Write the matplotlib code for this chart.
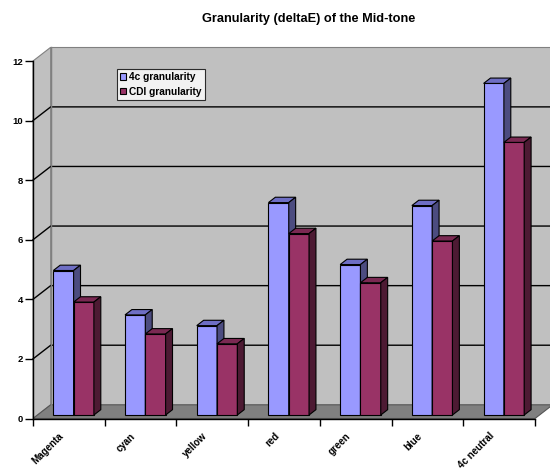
import numpy as np
import matplotlib
matplotlib.use('Agg')
import matplotlib.pyplot as plt
import matplotlib.patches as mpatches

plt.rcParams['font.family'] = ['Liberation Sans', 'DejaVu Sans']
plt.rcParams['font.weight'] = 'bold'

categories = ['Magenta', 'cyan', 'yellow', 'red', 'green', 'blue', '4c neutral']
gran_4c = [4.85, 3.36, 3.0, 7.13, 5.05, 7.03, 11.13]
gran_cdi = [3.79, 2.72, 2.39, 6.09, 4.44, 5.84, 9.15]
series_names = ['4c granularity', 'CDI granularity']
y_ticks = [0, 2, 4, 6, 8, 10, 12]

# colours: front, top, side
blue_cols = ['#9999FF', '#6E6EC4', '#4C4C80']
red_cols = ['#993366', '#7A2952', '#4D1A33']

W, H = 550, 468
fig = plt.figure(figsize=(W / 100, H / 100), dpi=100)
# front plane of the fake 3d box, in pixels
x0_px, x1_px, y0_px, y12_px = 33, 535, 418.5, 61
ax = fig.add_axes([x0_px / W, (H - y0_px) / H, (x1_px - x0_px) / W, (y0_px - y12_px) / H])
ax.set_xlim(0, len(categories))
ax.set_ylim(0, 12)
ax.patch.set_alpha(0)

# depth offsets (data units)
DX = 17.7 / ((x1_px - x0_px) / len(categories))
DY = 13.7 / ((y0_px - y12_px) / 12)
XR = len(categories) + DX
YT = 12 + DY

def poly(pts, fc, ec, lw=0.8, z=1):
    p = mpatches.Polygon(pts, closed=True, facecolor=fc, edgecolor=ec, lw=lw,
                         clip_on=False, zorder=z, joinstyle='miter')
    ax.add_patch(p)

# walls and floor
poly([(0, 0), (0, 12), (DX, YT), (DX, DY)], '#C0C0C0', '#808080', z=0.5)
poly([(DX, DY), (DX, YT), (XR, YT), (XR, DY)], '#C0C0C0', '#808080', z=0.5)
poly([(0, 0), (len(categories), 0), (XR, DY), (DX, DY)], '#808080', '#555555', z=0.6)

# gridlines on back wall + left wall
for v in y_ticks[1:-1]:
    ax.plot([0, DX, XR], [v, v + DY, v + DY], color='black', lw=1.0,
            clip_on=False, zorder=0.7)
ax.plot([DX, DX], [DY, YT], color='#808080', lw=1.0, clip_on=False, zorder=0.7)

# bars
f = 0.256
FX, FY = f * DX, f * DY
gap, w = 0.22, 0.283
bdx, bdy = 0.39 * DX, 0.39 * DY
for i in range(len(categories)):
    for j, (vals, cols) in enumerate([(gran_4c, blue_cols), (gran_cdi, red_cols)]):
        v = vals[i]
        xl = i + FX + gap + j * w
        xr = xl + w
        poly([(xl, FY), (xr, FY), (xr, FY + v), (xl, FY + v)], cols[0], 'black', z=2)
        poly([(xl, FY + v), (xr, FY + v), (xr + bdx, FY + v + bdy), (xl + bdx, FY + v + bdy)],
             cols[1], 'black', z=2)
        poly([(xr, FY), (xr + bdx, FY + bdy), (xr + bdx, FY + v + bdy), (xr, FY + v)],
             cols[2], 'black', z=2)

# axes, ticks
for s in ['top', 'right']:
    ax.spines[s].set_visible(False)
ax.spines['left'].set_linewidth(1.0)
ax.spines['bottom'].set_linewidth(1.0)
ax.spines['left'].set_zorder(3)
ax.spines['bottom'].set_zorder(3)
ax.set_yticks(y_ticks)
ax.set_yticklabels([str(t) for t in y_ticks], fontsize=6.8, fontweight='bold')
ax.tick_params(axis='y', length=5.5, width=1, pad=1.5)
ax.set_xticks(np.arange(len(categories) + 1))
ax.set_xticklabels([])
ax.tick_params(axis='x', which='major', length=5, width=1)
# labels sit a bit left of the category centre
ax.set_xticks(np.arange(len(categories)) + 0.36, minor=True)
ax.set_xticklabels(categories, minor=True, rotation=45, ha='right', va='top',
                   rotation_mode='anchor', fontsize=7, fontweight='bold')
ax.tick_params(axis='x', which='minor', length=0, pad=9)

fig.suptitle('Granularity (deltaE) of the Mid-tone', x=309 / W, y=1 - 19 / H,
             va='center', fontsize=9.2, fontweight='bold')

handles = [mpatches.Patch(facecolor=blue_cols[0], edgecolor='black', lw=0.8, label=series_names[0]),
           mpatches.Patch(facecolor=red_cols[0], edgecolor='black', lw=0.8, label=series_names[1])]
leg = fig.legend(handles=handles, loc='upper left', bbox_to_anchor=(117 / W, 1 - 69 / H),
                 fontsize=7.3, frameon=True, fancybox=False, shadow=False,
                 handlelength=0.6, handleheight=0.6, handletextpad=0.3,
                 borderpad=0.3, labelspacing=0.45, borderaxespad=0)
leg.get_frame().set_edgecolor('black')
leg.get_frame().set_linewidth(0.8)
for t in leg.get_texts():
    t.set_fontweight('bold')

plt.savefig('out.png', dpi=100)
